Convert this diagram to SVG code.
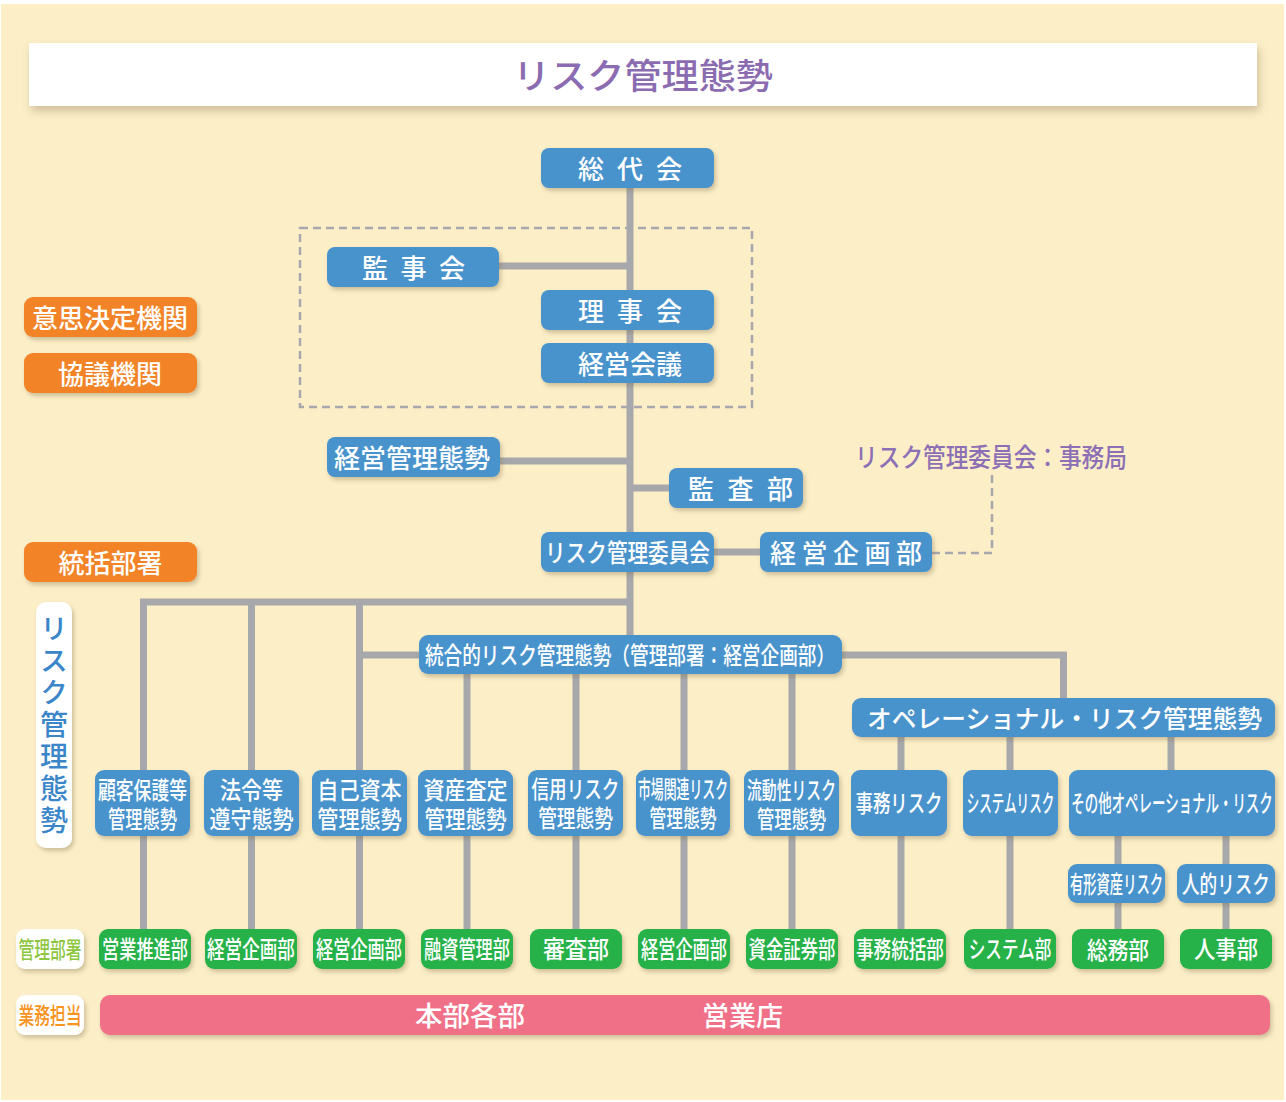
<svg xmlns="http://www.w3.org/2000/svg" width="1286" height="1102" viewBox="0 0 1286 1102">
<defs>
<filter id="sh" x="-10%" y="-20%" width="130%" height="170%"><feDropShadow dx="2" dy="3" stdDeviation="2" flood-color="#7a6a40" flood-opacity="0.35"/></filter>
<filter id="sh2" x="-5%" y="-20%" width="110%" height="180%"><feDropShadow dx="2" dy="5" stdDeviation="4" flood-color="#7a6a40" flood-opacity="0.35"/></filter>
<style>
.t{font-family:"Noto Sans CJK JP","Noto Sans CJK SC","Noto Sans",sans-serif;font-weight:500;fill:#fff;text-anchor:middle;dominant-baseline:central}
.b{fill:#4A93CD;filter:url(#sh)}
.o{fill:#F28325;filter:url(#sh)}
.g{fill:#27B24A;filter:url(#sh)}
.w{fill:#fff;filter:url(#sh)}
.p{fill:#F07087;filter:url(#sh)}
.ln{stroke:#A7A8AB;stroke-width:7;fill:none}
.dl{stroke:#A7A8AB;stroke-width:2.5;fill:none;stroke-dasharray:8 5}
</style>
</defs>
<rect x="1" y="4" width="1283" height="1096" fill="#FCEEC7"/>
<g id="title">
<rect x="29" y="43" width="1228" height="63" fill="#fff" filter="url(#sh2)"/>
<text class="t" x="643" y="73" font-size="35" style="fill:#8B6CB1" textLength="260" lengthAdjust="spacingAndGlyphs">リスク管理態勢</text>
</g>
<g id="connectors">
<rect class="dl" x="300" y="228" width="452" height="179"/>
<path class="dl" d="M932 553 H992 V473"/>
<path class="ln" d="M630 188 V635"/>
<path class="ln" d="M499 266 H630"/>
<path class="ln" d="M500 461 H630"/>
<path class="ln" d="M630 488 H670"/>
<path class="ln" d="M714 552 H760"/>
<path class="ln" d="M143.5 929 V602 H630"/>
<path class="ln" d="M251.5 602 V929"/>
<path class="ln" d="M359.5 602 V929"/>
<path class="ln" d="M359.5 655 H419"/>
<path class="ln" d="M842 655 H1063.5 V698"/>
<path class="ln" d="M467 674 V929"/>
<path class="ln" d="M576 674 V929"/>
<path class="ln" d="M684 674 V929"/>
<path class="ln" d="M792 674 V929"/>
<path class="ln" d="M901 737 V929"/>
<path class="ln" d="M1010 737 V929"/>
<path class="ln" d="M1171 737 V770"/>
<path class="ln" d="M1118 836 V929"/>
<path class="ln" d="M1226 836 V929"/>
</g>
<g id="secretariat">
<text class="t" transform="translate(991 456) scale(0.872 1)" font-size="26" style="fill:#8C6FB5">リスク管理委員会：事務局</text>
</g>
<g id="n-soudaikai"><rect class="b" x="541" y="148" width="173" height="40" rx="8"/><text class="t" x="630" y="167" font-size="26" textLength="104" lengthAdjust="spacing">総代会</text></g>
<g id="n-kanjikai"><rect class="b" x="327" y="247" width="172" height="40" rx="8"/><text class="t" x="413.5" y="266" font-size="26" textLength="103" lengthAdjust="spacing">監事会</text></g>
<g id="n-rijikai"><rect class="b" x="541" y="290" width="173" height="40" rx="8"/><text class="t" x="630" y="309" font-size="26" textLength="104" lengthAdjust="spacing">理事会</text></g>
<g id="n-keiei-kaigi"><rect class="b" x="541" y="343" width="173" height="40" rx="8"/><text class="t" x="630" y="362" font-size="26">経営会議</text></g>
<g id="n-keiei-kanri"><rect class="b" x="327" y="437" width="173" height="40" rx="8"/><text class="t" x="412" y="456" font-size="26">経営管理態勢</text></g>
<g id="n-kansabu"><rect class="b" x="669" y="468" width="134" height="40" rx="8"/><text class="t" x="740.5" y="487" font-size="26" textLength="105" lengthAdjust="spacing">監査部</text></g>
<g id="n-risk-iinkai"><rect class="b" x="541" y="532" width="173" height="40" rx="8"/><text class="t" transform="translate(627.5 551) scale(0.825 1)" font-size="25">リスク管理委員会</text></g>
<g id="n-keiei-kikaku"><rect class="b" x="760" y="532" width="172" height="40" rx="8"/><text class="t" x="846" y="551" font-size="26" textLength="152" lengthAdjust="spacing">経営企画部</text></g>
<g id="l-ishi"><rect class="o" x="24" y="297" width="173" height="40" rx="9"/><text class="t" x="110" y="316" font-size="26">意思決定機関</text></g>
<g id="l-kyogi"><rect class="o" x="24" y="353" width="173" height="40" rx="9"/><text class="t" x="110" y="372" font-size="26">協議機関</text></g>
<g id="l-tokatsu"><rect class="o" x="24" y="542" width="173" height="40" rx="9"/><text class="t" x="110.5" y="561" font-size="26">統括部署</text></g>
<g id="l-risk-vertical"><rect class="w" x="36" y="602" width="36" height="246" rx="10"/><text class="t" x="54" y="726" font-size="28" font-weight="700" style="fill:#3A86C8;writing-mode:vertical-rl;letter-spacing:4px">リスク管理態勢</text></g>
<g id="n-togo"><rect class="b" x="419" y="635" width="423" height="39" rx="9"/><text class="t" transform="translate(630 653.5) scale(0.777 1)" font-size="24">統合的リスク管理態勢（管理部署：経営企画部）</text></g>
<g id="n-ope"><rect class="b" x="852" y="698" width="423" height="39" rx="9"/><text class="t" x="1064.5" y="716.5" font-size="25" textLength="395" lengthAdjust="spacingAndGlyphs">オペレーショナル・リスク管理態勢</text></g>
<g id="n-kokyaku"><rect class="b" x="95" y="770" width="95" height="66" rx="9"/><text class="t" transform="translate(142.5 0) scale(0.742 1)" font-size="24"><tspan x="0" y="788">顧客保護等</tspan><tspan x="0" y="817" textLength="93" lengthAdjust="spacingAndGlyphs">管理態勢</tspan></text></g>
<g id="n-horei"><rect class="b" x="204" y="770" width="95" height="66" rx="9"/><text class="t" transform="translate(251.5 0) scale(0.875 1)" font-size="24"><tspan x="0" y="788">法令等</tspan><tspan x="0" y="817">遵守態勢</tspan></text></g>
<g id="n-jiko"><rect class="b" x="312" y="770" width="95" height="66" rx="9"/><text class="t" transform="translate(359.5 0) scale(0.88 1)" font-size="24"><tspan x="0" y="788">自己資本</tspan><tspan x="0" y="817">管理態勢</tspan></text></g>
<g id="n-shisan"><rect class="b" x="418" y="770" width="95" height="66" rx="9"/><text class="t" transform="translate(465.5 0) scale(0.875 1)" font-size="24"><tspan x="0" y="788">資産査定</tspan><tspan x="0" y="817" textLength="94" lengthAdjust="spacingAndGlyphs">管理態勢</tspan></text></g>
<g id="n-shinyo"><rect class="b" x="528" y="770" width="95" height="66" rx="9"/><text class="t" transform="translate(575.5 0) scale(0.733 1)" font-size="24"><tspan x="0" y="788">信用リスク</tspan><tspan x="0" y="817" textLength="102" lengthAdjust="spacingAndGlyphs">管理態勢</tspan></text></g>
<g id="n-shijo"><rect class="b" x="636" y="770" width="94" height="66" rx="9"/><text class="t" transform="translate(683 0) scale(0.536 1)" font-size="24"><tspan x="0" y="788">市場関連リスク</tspan><tspan x="0" y="817" textLength="125" lengthAdjust="spacingAndGlyphs">管理態勢</tspan></text></g>
<g id="n-ryudo"><rect class="b" x="744" y="770" width="95" height="66" rx="9"/><text class="t" transform="translate(791.5 0) scale(0.618 1)" font-size="24"><tspan x="0" y="788">流動性リスク</tspan><tspan x="0" y="817" textLength="112" lengthAdjust="spacingAndGlyphs">管理態勢</tspan></text></g>
<g id="n-jimu"><rect class="b" x="851" y="770" width="96" height="66" rx="9"/><text class="t" transform="translate(899 802) scale(0.725 1)" font-size="24">事務リスク</text></g>
<g id="n-system"><rect class="b" x="963" y="770" width="95" height="66" rx="9"/><text class="t" transform="translate(1010.5 802) scale(0.524 1)" font-size="24">システムリスク</text></g>
<g id="n-sonota"><rect class="b" x="1069" y="770" width="206" height="66" rx="9"/><text class="t" transform="translate(1172 802) scale(0.561 1)" font-size="24">その他オペレーショナル・リスク</text></g>
<g id="n-yukei"><rect class="b" x="1068" y="864" width="97" height="39" rx="9"/><text class="t" transform="translate(1116.5 882.5) scale(0.554 1)" font-size="24">有形資産リスク</text></g>
<g id="n-jinteki"><rect class="b" x="1177" y="864" width="98" height="39" rx="9"/><text class="t" transform="translate(1226 882.5) scale(0.733 1)" font-size="24">人的リスク</text></g>
<g id="l-kanri"><rect class="w" x="16" y="929" width="68" height="40" rx="9"/><text class="t" transform="translate(50 948) scale(0.685 1)" font-size="23" style="fill:#8DC63F">管理部署</text></g>
<g id="l-gyomu"><rect class="w" x="16" y="995" width="68" height="40" rx="9"/><text class="t" transform="translate(50 1014) scale(0.685 1)" font-size="23" style="fill:#F7941D">業務担当</text></g>
<g id="d-eigyo-suishin"><rect class="g" x="99" y="929" width="92" height="40" rx="9"/><text class="t" transform="translate(145 948) scale(0.717 1)" font-size="24">営業推進部</text></g>
<g id="d-keiei1"><rect class="g" x="205" y="929" width="92" height="40" rx="9"/><text class="t" transform="translate(251 948) scale(0.733 1)" font-size="24">経営企画部</text></g>
<g id="d-keiei2"><rect class="g" x="313" y="929" width="92" height="40" rx="9"/><text class="t" transform="translate(359 948) scale(0.717 1)" font-size="24">経営企画部</text></g>
<g id="d-yushi"><rect class="g" x="421" y="929" width="92" height="40" rx="9"/><text class="t" transform="translate(467 948) scale(0.717 1)" font-size="24">融資管理部</text></g>
<g id="d-shinsa"><rect class="g" x="530" y="929" width="92" height="40" rx="9"/><text class="t" transform="translate(576 948) scale(0.917 1)" font-size="24">審査部</text></g>
<g id="d-keiei3"><rect class="g" x="638" y="929" width="92" height="40" rx="9"/><text class="t" transform="translate(684 948) scale(0.717 1)" font-size="24">経営企画部</text></g>
<g id="d-shikin"><rect class="g" x="746" y="929" width="92" height="40" rx="9"/><text class="t" transform="translate(792 948) scale(0.725 1)" font-size="24">資金証券部</text></g>
<g id="d-jimu"><rect class="g" x="854" y="929" width="92" height="40" rx="9"/><text class="t" transform="translate(900 948) scale(0.733 1)" font-size="24">事務統括部</text></g>
<g id="d-system"><rect class="g" x="964" y="929" width="92" height="40" rx="9"/><text class="t" transform="translate(1010 948) scale(0.692 1)" font-size="24">システム部</text></g>
<g id="d-somu"><rect class="g" x="1072" y="929" width="92" height="40" rx="9"/><text class="t" transform="translate(1118 948) scale(0.861 1)" font-size="24">総務部</text></g>
<g id="d-jinji"><rect class="g" x="1180" y="929" width="92" height="40" rx="9"/><text class="t" transform="translate(1226 948) scale(0.889 1)" font-size="24">人事部</text></g>
<g id="bar-gyomu"><rect class="p" x="100" y="995" width="1170" height="40" rx="10"/><text class="t" x="470" y="1014" font-size="27" textLength="110" lengthAdjust="spacingAndGlyphs">本部各部</text><text class="t" x="742.5" y="1014" font-size="27">営業店</text></g>
</svg>
